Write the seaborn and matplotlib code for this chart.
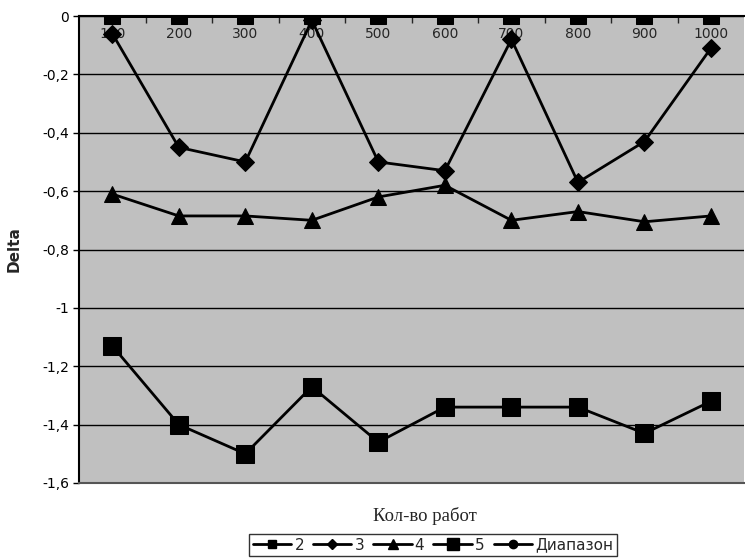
import numpy as np
import pandas as pd
import matplotlib
matplotlib.use('Agg')
import matplotlib.pyplot as plt
from matplotlib.lines import Line2D
from matplotlib.ticker import FixedLocator, FuncFormatter
import seaborn as sns

##### Data #####################################################################
jobs = [100, 200, 300, 400, 500, 600, 700, 800, 900, 1000]
s2 = [0, 0, 0, 0, 0, 0, 0, 0, 0, 0]
s3 = [-0.06, -0.45, -0.50, -0.015, -0.50, -0.53, -0.08, -0.57, -0.43, -0.11]
s4 = [-0.61, -0.685, -0.685, -0.70, -0.62, -0.58, -0.70, -0.67, -0.705, -0.685]
s5 = [-1.13, -1.40, -1.50, -1.27, -1.46, -1.34, -1.34, -1.34, -1.43, -1.32]
rng = [0, 0, 0, 0, 0, 0, 0, 0, 0, 0]

df = pd.DataFrame({'jobs': jobs, '2': s2, '3': s3, '4': s4, '5': s5,
    'Диапазон': rng})

##### Theme ####################################################################
sns.set_style('white')
plt.rcParams['font.family'] = ['DejaVu Sans']

fig = plt.figure(figsize=(7.45, 5.58), dpi=100)
ax = fig.add_axes([79 / 745, 1 - 483 / 558, 1 - 79 / 745 - 0.001,
    (483 - 16) / 558])
ax.set_facecolor('#C0C0C0')

##### Series ###################################################################
styles = {
    '3': dict(marker='D', markersize=9),
    '4': dict(marker='^', markersize=11),
    '5': dict(marker='s', markersize=13.5),
    'Диапазон': dict(marker='o', markersize=8),
    '2': dict(marker='s', markersize=12),
}
for name, st in styles.items():
    sns.lineplot(ax=ax, data=df, x='jobs', y=name, color='black',
        linewidth=2, markeredgecolor='black', markerfacecolor='black',
        zorder=3, **st)

##### Axes #####################################################################
ax.set_xlim(50, 1050)
ax.set_ylim(-1.6, 0)

def fmt(v, p):
    v = round(v, 1)
    if v == 0:
        return '0'
    return ('%g' % v).replace('.', ',')

ax.set_yticks(np.round(np.arange(-1.6, 0.01, 0.2), 1))
ax.yaxis.set_major_formatter(FuncFormatter(fmt))
ax.grid(axis='y', color='black', linewidth=1, zorder=1)
ax.set_axisbelow(True)
ax.tick_params(axis='y', direction='out', length=4, width=1, labelsize=10,
    left=True, colors='black', pad=3)

ax.xaxis.set_ticks_position('top')
ax.set_xticks(jobs)
ax.set_xticklabels([str(j) for j in jobs])
ax.xaxis.set_minor_locator(FixedLocator([j + 50 for j in jobs[:-1]]))
ax.tick_params(axis='x', which='major', length=0, pad=-18, labelsize=10)
ax.tick_params(axis='x', which='minor', direction='in', length=5, width=1,
    top=True, bottom=False)

for side in ['top', 'left', 'bottom']:
    ax.spines[side].set_color('black')
    ax.spines[side].set_linewidth(1.5)
ax.spines['right'].set_visible(False)
ax.spines['bottom'].set_color('#555555')

ax.set_ylabel('Delta', fontweight='bold', fontsize=11)
ax.yaxis.set_label_coords(-57 / 666, 0.5)
ax.set_xlabel('Кол-во работ', fontfamily='Liberation Serif', fontsize=13.5,
    va='center')
ax.xaxis.set_label_position('bottom')
ax.xaxis.set_label_coords((425 - 79) / 666, (483 - 507) / 467)

##### Legend ###################################################################
handles = [
    Line2D([], [], color='black', lw=2, marker='s', markersize=6),
    Line2D([], [], color='black', lw=2, marker='D', markersize=5),
    Line2D([], [], color='black', lw=2, marker='^', markersize=7),
    Line2D([], [], color='black', lw=2, marker='s', markersize=9),
    Line2D([], [], color='black', lw=2, marker='o', markersize=6),
]
leg = fig.legend(handles, ['2', '3', '4', '5', 'Диапазон'], ncol=5,
    loc='center', bbox_to_anchor=(433 / 745, 1 - 545 / 558), fontsize=11,
    frameon=True, fancybox=False, edgecolor='black', handlelength=2.5,
    handletextpad=0.2, columnspacing=0.6, borderpad=0.25)
leg.get_frame().set_linewidth(1)

plt.savefig('out.png', dpi=100)
